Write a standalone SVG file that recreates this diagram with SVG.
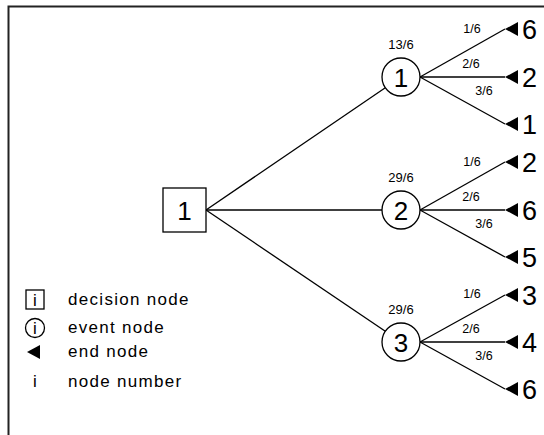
<svg xmlns="http://www.w3.org/2000/svg" width="544" height="435" viewBox="0 0 544 435">
<style>
text{font-family:"Liberation Sans",Arial,sans-serif;fill:#000}
.big{font-size:26px}
.end{font-size:27px}
.val{font-size:13px;text-anchor:middle}
.prob{font-size:12.5px;text-anchor:middle}
.leg{font-size:17px;letter-spacing:1.3px}
.legi{font-size:17px;text-anchor:middle}
.ln{stroke:#000;stroke-width:1.3;fill:none}
.shape{stroke:#000;stroke-width:1.3;fill:#fff}
</style>
<defs>
<polygon id="tri" points="0,0 13,-7 13,7" fill="#000"/>
</defs>
<rect width="544" height="435" fill="#fff"/>
<path d="M8.5,435 V6.5 H544" fill="none" stroke="#222" stroke-width="2"/>
<g id="connectors">
<line class="ln" x1="206" y1="210" x2="385.3" y2="87.7"/>
<line class="ln" x1="206" y1="210" x2="382" y2="210"/>
<line class="ln" x1="206" y1="210" x2="385.3" y2="331.3"/>
<line class="ln" x1="420" y1="77" x2="505" y2="29"/>
<line class="ln" x1="420" y1="77" x2="505" y2="77"/>
<line class="ln" x1="420" y1="77" x2="505" y2="124"/>
<line class="ln" x1="420" y1="210" x2="505" y2="162"/>
<line class="ln" x1="420" y1="210" x2="505" y2="210"/>
<line class="ln" x1="420" y1="210" x2="505" y2="257"/>
<line class="ln" x1="420" y1="342" x2="505" y2="295"/>
<line class="ln" x1="420" y1="342" x2="505" y2="342"/>
<line class="ln" x1="420" y1="342" x2="505" y2="389"/>
<text class="prob" x="472" y="33">1/6</text>
<text class="prob" x="471" y="68">2/6</text>
<text class="prob" x="484" y="95">3/6</text>
<text class="prob" x="472" y="166">1/6</text>
<text class="prob" x="471" y="201">2/6</text>
<text class="prob" x="484" y="228">3/6</text>
<text class="prob" x="472" y="298">1/6</text>
<text class="prob" x="471" y="333">2/6</text>
<text class="prob" x="484" y="360">3/6</text>
</g>
<g id="decision1">
<rect class="shape" x="163" y="188" width="43" height="44"/>
<text class="big" x="184.5" y="219.5" text-anchor="middle">1</text>
</g>
<g id="event1">
<circle class="shape" cx="401" cy="77" r="19"/>
<text class="big" x="401" y="86.5" text-anchor="middle">1</text>
<text class="val" x="401" y="49">13/6</text>
</g>
<g id="event2">
<circle class="shape" cx="401" cy="210" r="19"/>
<text class="big" x="401" y="219.5" text-anchor="middle">2</text>
<text class="val" x="401" y="182">29/6</text>
</g>
<g id="event3">
<circle class="shape" cx="401" cy="342" r="19"/>
<text class="big" x="401" y="351.5" text-anchor="middle">3</text>
<text class="val" x="401" y="314">29/6</text>
</g>
<g id="end1a"><use href="#tri" x="505" y="29"/><text class="end" x="522" y="39">6</text></g>
<g id="end1b"><use href="#tri" x="505" y="77"/><text class="end" x="522" y="87">2</text></g>
<g id="end1c"><use href="#tri" x="505" y="124"/><text class="end" x="522" y="134">1</text></g>
<g id="end2a"><use href="#tri" x="505" y="162"/><text class="end" x="522" y="172">2</text></g>
<g id="end2b"><use href="#tri" x="505" y="210"/><text class="end" x="522" y="220">6</text></g>
<g id="end2c"><use href="#tri" x="505" y="257"/><text class="end" x="522" y="267">5</text></g>
<g id="end3a"><use href="#tri" x="505" y="295"/><text class="end" x="522" y="305">3</text></g>
<g id="end3b"><use href="#tri" x="505" y="342"/><text class="end" x="522" y="352">4</text></g>
<g id="end3c"><use href="#tri" x="505" y="389"/><text class="end" x="522" y="399">6</text></g>
<g id="legend">
<rect class="shape" x="26" y="290" width="18" height="19" stroke-width="1"/>
<text class="legi" x="35" y="305.5">i</text>
<text class="leg" x="68" y="305">decision node</text>
<circle class="shape" cx="35" cy="328" r="9.5" stroke-width="1"/>
<text class="legi" x="35" y="334">i</text>
<text class="leg" x="68" y="333">event node</text>
<polygon points="27,352 40,345 40,359" fill="#000"/>
<text class="leg" x="68" y="357">end node</text>
<text class="legi" x="35" y="387">i</text>
<text class="leg" x="68" y="387">node number</text>
</g>
</svg>
